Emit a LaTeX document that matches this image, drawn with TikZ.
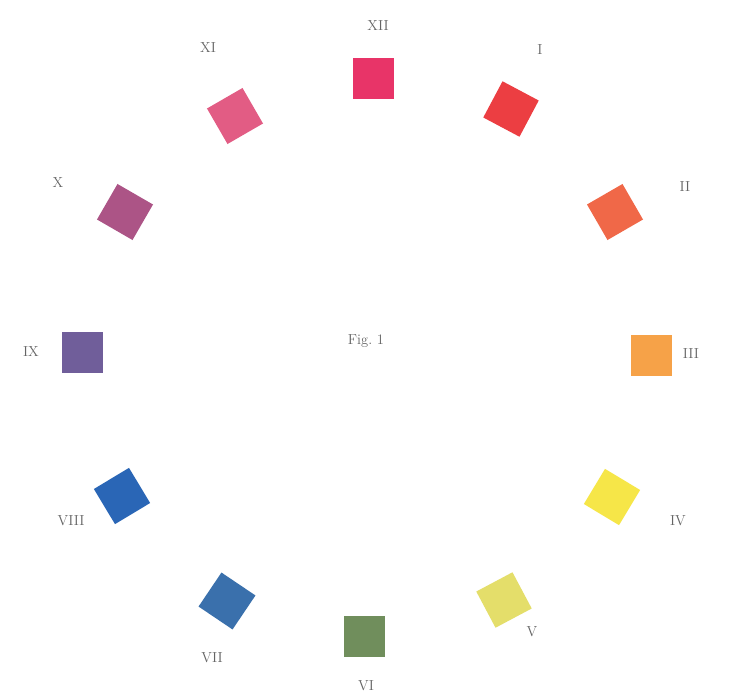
\documentclass[tikz,border=0pt]{standalone}
\usetikzlibrary{shapes.geometric}
\definecolor{cXII}{RGB}{232,52,104}
\definecolor{cI}{RGB}{236,62,66}
\definecolor{cII}{RGB}{240,104,72}
\definecolor{cIII}{RGB}{246,162,72}
\definecolor{cIV}{RGB}{246,230,72}
\definecolor{cV}{RGB}{228,222,106}
\definecolor{cVI}{RGB}{112,142,92}
\definecolor{cVII}{RGB}{58,112,172}
\definecolor{cVIII}{RGB}{42,102,182}
\definecolor{cIX}{RGB}{112,94,154}
\definecolor{cX}{RGB}{172,84,134}
\definecolor{cXI}{RGB}{226,92,132}
\definecolor{labgray}{RGB}{100,100,100}
\tikzset{
  swatch/.style={rectangle, minimum width=41pt, minimum height=41pt, inner sep=0pt, draw=none},
  numlabel/.style={font=\fontsize{14.5}{16}\selectfont, text=labgray, inner sep=0pt},
}
\begin{document}
\begin{tikzpicture}[x=1pt,y=-1pt]
\useasboundingbox (0,0) rectangle (729,696);
\fill[white] (0,0) rectangle (729,696);
% swatches
\node[swatch, fill=cXII] (s12) at (373,78) {};
\node[swatch, fill=cI, rotate=-28] (s1) at (511,109) {};
\node[swatch, fill=cII, rotate=30] (s2) at (615,212) {};
\node[swatch, fill=cIII] (s3) at (651,355) {};
\node[swatch, fill=cIV, rotate=-31] (s4) at (612,497) {};
\node[swatch, fill=cV, rotate=28] (s5) at (504,600) {};
\node[swatch, fill=cVI] (s6) at (364,636) {};
\node[swatch, fill=cVII, rotate=-34] (s7) at (227,601) {};
\node[swatch, fill=cVIII, rotate=31] (s8) at (122,496) {};
\node[swatch, fill=cIX] (s9) at (82,352) {};
\node[swatch, fill=cX, rotate=-30] (s10) at (125,212) {};
\node[swatch, fill=cXI, rotate=30] (s11) at (235,116) {};
% labels
\node[numlabel] (l12) at (378,26) {XII};
\node[numlabel] (l1) at (540,50) {I};
\node[numlabel] (l2) at (685,187) {II};
\node[numlabel] (l3) at (691,354) {III};
\node[numlabel] (l4) at (678,521) {IV};
\node[numlabel] (l5) at (532,632) {V};
\node[numlabel] (l6) at (366,686) {VI};
\node[numlabel] (l7) at (212,658) {VII};
\node[numlabel] (l8) at (71,521) {VIII};
\node[numlabel] (l9) at (31,352) {IX};
\node[numlabel] (l10) at (58,183) {X};
\node[numlabel] (l11) at (208,48) {XI};
\node[numlabel] (fig) at (366,341) {Fig.\ 1};
\end{tikzpicture}
\end{document}
